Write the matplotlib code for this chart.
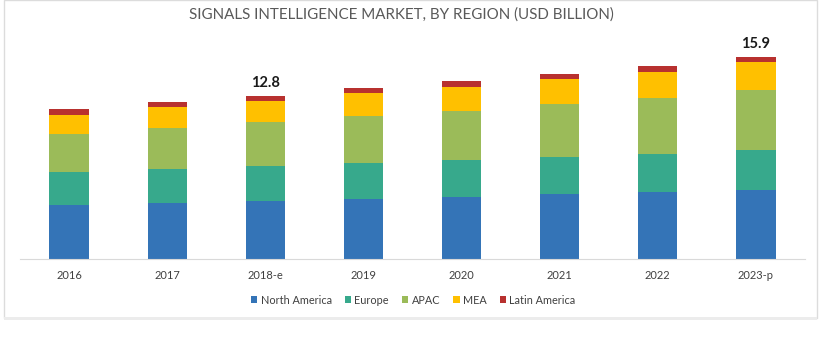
import matplotlib.pyplot as plt
from matplotlib.patches import Rectangle
import numpy as np

years = ["2016", "2017", "2018-e", "2019", "2020", "2021", "2022", "2023-p"]
north_america = [4.25, 4.43, 4.59, 4.72, 4.87, 5.07, 5.27, 5.45]
europe = [2.60, 2.68, 2.72, 2.85, 2.90, 2.94, 2.98, 3.10]
apac = [3.00, 3.20, 3.42, 3.70, 3.90, 4.20, 4.43, 4.75]
mea = [1.50, 1.62, 1.68, 1.78, 1.88, 1.92, 2.04, 2.19]
latin_america = [0.45, 0.40, 0.39, 0.40, 0.42, 0.42, 0.45, 0.41]
labelled = ["2018-e", "2023-p"]

regions = ["North America", "Europe", "APAC", "MEA", "Latin America"]
series = [north_america, europe, apac, mea, latin_america]
colors = ["#3474b7", "#37a98c", "#9bbb59", "#ffc000", "#b8312f"]

plt.rcParams['font.family'] = ['Lato', 'DejaVu Sans']

fig = plt.figure(figsize=(8.2, 3.5), dpi=100)
# light frame round the chart area
fig.patches.append(Rectangle((4 / 820, 32 / 350), 813 / 820, 318 / 350,
                             transform=fig.transFigure, fill=False,
                             edgecolor="#dcdcdc", linewidth=1.0))
fig.patches.append(Rectangle((4 / 820, 30 / 350), 813 / 820, 3 / 350,
                             transform=fig.transFigure, color="#ececec", linewidth=0))

ax = fig.add_axes([20 / 820, 91 / 350, 785 / 820, 229 / 350])
x = np.arange(len(years))
bottom = np.zeros(len(years))
for name, vals, c in zip(regions, series, colors):
    ax.bar(x, vals, width=0.4, bottom=bottom, color=c, label=name)
    bottom += np.array(vals)

for i, yr in enumerate(years):
    if yr in labelled:
        ax.text(x[i], bottom[i] + 0.45, f"{bottom[i]:.1f}", ha="center", va="bottom",
                fontsize=10.5, fontweight="bold", color="#1a1a1a")

ax.set_xlim(-0.5, 7.5)
ax.set_ylim(0, 18)
ax.set_xticks(x)
ax.set_xticklabels(years, fontsize=8, color="#404040")
ax.tick_params(axis="x", length=0, pad=8)
ax.set_yticks([])
for s in ["top", "right", "left"]:
    ax.spines[s].set_visible(False)
ax.spines["bottom"].set_color("#d9d9d9")

fig.text(0.49, 1 - 15 / 350, "SIGNALS INTELLIGENCE MARKET, BY REGION (USD BILLION)",
         ha="center", va="center", fontsize=10.9, color="#595959")

fig.legend(loc="center", bbox_to_anchor=(0.504, 1 - 300 / 350), ncol=5, frameon=False,
           fontsize=7.8, handlelength=0.6, handleheight=0.6, handletextpad=0.3,
           columnspacing=1.2, labelcolor="#404040")

fig.savefig("out.png", dpi=100)
